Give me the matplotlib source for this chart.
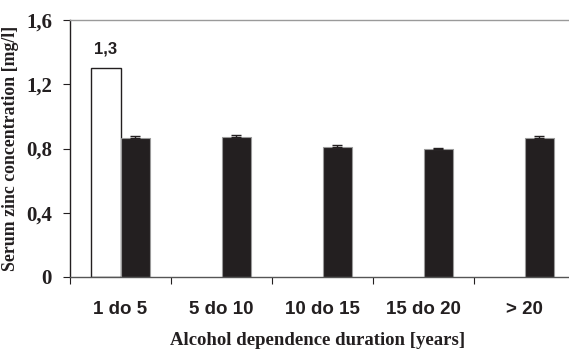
import numpy as np
import matplotlib.pyplot as plt

# serum zinc by duration of alcohol dependence
categories = ["1 do 5", "5 do 10", "10 do 15", "15 do 20", "> 20"]
reference_value = [1.3]                       # white bar, first group only
zinc_mean = [0.863, 0.873, 0.807, 0.797, 0.863]
zinc_err = [0.014, 0.012, 0.014, 0.008, 0.014]
y_ticks = [0, 0.4, 0.8, 1.2, 1.6]
y_tick_labels = ["0", "0,4", "0,8", "1,2", "1,6"]

SERIF = "Liberation Serif"
SANS = "Liberation Sans"
INK = "#231f20"

fig = plt.figure(figsize=(5.69, 3.51), dpi=100)
ax = fig.add_axes([70 / 569, 1 - 277 / 351, 505 / 569, 257 / 351])

centers = np.arange(len(categories)) + 0.5
bw = 0.29

ax.bar(centers[:1] - bw, reference_value, width=bw, align="edge",
       color="white", edgecolor=INK, linewidth=1.0, zorder=2)
ax.bar(centers, zinc_mean, width=bw, align="edge",
       color=INK, edgecolor="#9a9a9a", linewidth=0.8, zorder=2)
ax.errorbar(centers + bw / 2, zinc_mean,
            yerr=[np.zeros(len(zinc_err)), zinc_err],
            fmt="none", ecolor=INK, elinewidth=1.0,
            capsize=3.6, capthick=1.0, zorder=3)

ax.text(centers[0] - bw / 2, reference_value[0] + 0.12, "1,3",
        ha="center", va="center", fontsize=12, fontweight="bold",
        family=SANS, color=INK)

ax.set_xlim(0, len(categories))
ax.set_ylim(0, 1.6)

ax.set_yticks(y_ticks)
ax.set_yticklabels(y_tick_labels, family=SERIF, fontweight="bold", fontsize=15)
ax.tick_params(axis="y", direction="out", length=5, width=0.8, pad=8, colors=INK)

ax.set_xticks(np.arange(len(categories) + 1))
ax.set_xticklabels([])
ax.set_xticks(centers, minor=True)
ax.set_xticklabels(categories, minor=True, family=SANS, fontweight="bold", fontsize=13.5)
ax.tick_params(axis="x", which="major", direction="out", length=5, width=0.8, color=INK)
ax.tick_params(axis="x", which="minor", length=0, pad=17, labelcolor=INK)

ax.set_ylabel("Serum zinc concentration [mg/l]", family=SERIF, fontweight="bold",
              fontsize=12.8, color=INK, labelpad=5)
ax.set_xlabel("Alcohol dependence duration [years]", family=SERIF, fontweight="bold",
              fontsize=13.5, color=INK, labelpad=12)
ax.xaxis.set_label_coords(0.49, -0.215)

ax.spines["left"].set_color(INK)
ax.spines["bottom"].set_color("#555555")
ax.spines["top"].set_color("#9a9a9a")
ax.spines["right"].set_visible(False)
for s in ax.spines.values():
    s.set_linewidth(1.0)

fig.savefig("out.png", dpi=100)
